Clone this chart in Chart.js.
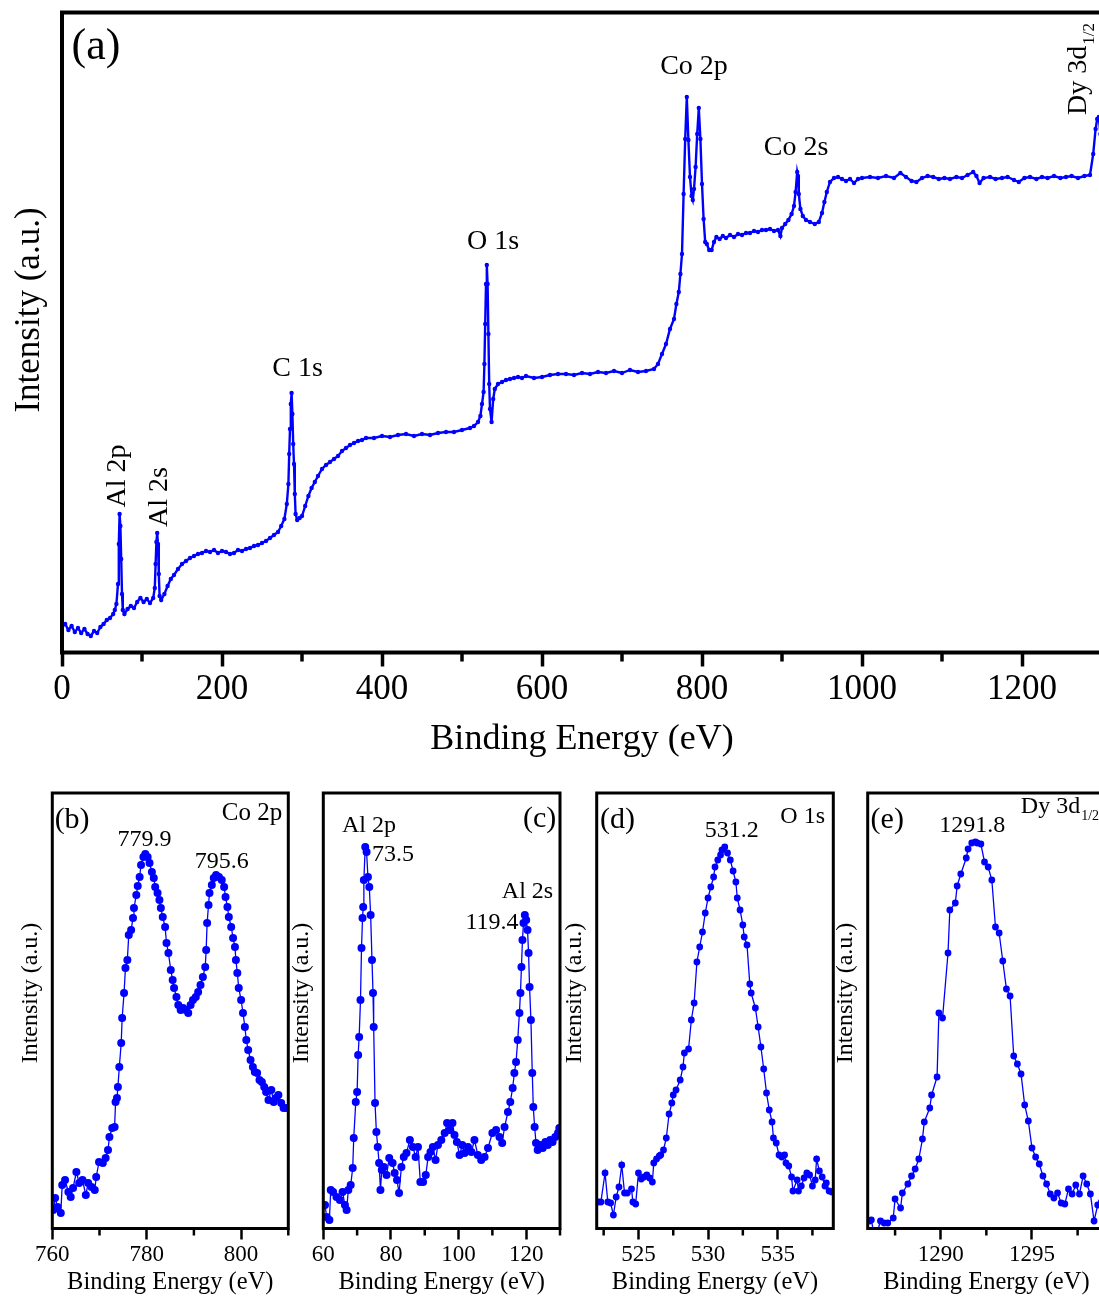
<!DOCTYPE html>
<html>
<head>
<meta charset="utf-8">
<title>XPS spectra</title>
<script src="https://cdn.jsdelivr.net/npm/chart.js@4.4.1/dist/chart.umd.min.js"></script>
<style>
  html, body { margin: 0; padding: 0; background: #fff; overflow: hidden; }
  body { width: 1099px; height: 1298px; position: relative; }
  canvas { position: absolute; }
</style>
</head>
<body>
<canvas id="panelA"></canvas>
<canvas id="panelB"></canvas>
<canvas id="panelC"></canvas>
<canvas id="panelD"></canvas>
<canvas id="panelE"></canvas>
<script>
/* ---------------------------------------------------------
   Data (intensity in arbitrary units)
   --------------------------------------------------------- */

// (a) survey spectrum
const SURVEY_EV = [
  0, 4, 8, 12, 16, 20, 24, 28, 32, 36,
  40, 44, 48, 52, 56, 60, 64, 66, 68, 70,
  71, 72, 73, 74, 75, 76, 78, 82, 86, 90,
  94, 98, 102, 106, 110, 114, 116, 117, 118, 119,
  120, 121, 122, 124, 128, 132, 136, 140, 145, 150,
  155, 160, 165, 170, 175, 180, 185, 190, 195, 200,
  205, 210, 215, 220, 225, 230, 235, 240, 245, 250,
  255, 260, 265, 270, 274, 278, 281, 283, 284, 285,
  286, 287, 288, 289, 290, 291, 292, 294, 297, 300,
  304, 308, 312, 316, 320, 325, 330, 335, 340, 345,
  350, 355, 360, 365, 370, 375, 380, 390, 400, 410,
  420, 430, 440, 450, 460, 470, 480, 490, 500, 510,
  515, 520, 523, 525, 527, 528, 529, 530, 531, 532,
  533, 534, 535, 537, 539, 541, 545, 550, 555, 560,
  565, 570, 575, 580, 590, 600, 610, 620, 630, 640,
  650, 660, 670, 680, 690, 700, 710, 720, 730, 740,
  745, 750, 755, 760, 765, 768, 771, 773, 775, 777,
  779, 781, 783, 785, 787, 788.5, 790, 792, 794, 796,
  798, 800, 802, 804, 806, 809, 812, 815, 818, 822,
  826, 830, 835, 840, 845, 850, 855, 860, 865, 870,
  875, 880, 885, 890, 895, 898, 900, 904, 908, 912,
  915, 917, 919, 920, 921, 923, 926, 930, 935, 941,
  946, 950, 953, 956, 960, 965, 970, 975, 980, 985,
  990, 995, 1000, 1010, 1020, 1030, 1040, 1048, 1055, 1062,
  1068, 1075, 1082, 1089, 1096, 1103, 1110, 1118, 1125, 1132,
  1139, 1143, 1147, 1152, 1160, 1167, 1175, 1182, 1190, 1196,
  1203, 1210, 1218, 1225, 1232, 1240, 1248, 1255, 1262, 1270,
  1278, 1285, 1289, 1292, 1294, 1296, 1298, 1300
];
const SURVEY_INT = [
  27, 30, 24, 28, 22, 26, 21, 25, 20, 18,
  23, 21, 27, 30, 34, 36, 40, 44, 50, 70,
  110, 140, 128, 95, 60, 44, 40, 45, 48, 46,
  52, 56, 52, 55, 51, 56, 66, 90, 112, 121,
  110, 80, 58, 54, 60, 68, 75, 79, 85, 90,
  93, 96, 98, 100, 101, 103, 102, 104, 101, 103,
  102, 100, 101, 104, 103, 105, 106, 108, 109, 111,
  113, 116, 119, 122, 128, 135, 150, 170, 200, 225,
  250, 261, 240, 210, 190, 160, 140, 134, 136, 138,
  148, 158, 166, 172, 178, 185, 189, 192, 195, 198,
  203, 206, 209, 211, 213, 214, 216, 216, 218, 217,
  219, 220, 218, 220, 219, 221, 222, 222, 224, 226,
  228, 232, 238, 250, 262, 290, 330, 370, 389, 370,
  320, 270, 245, 232, 255, 265, 270, 272, 274, 275,
  276, 277, 276, 278, 276, 277, 279, 280, 280, 279,
  281, 280, 282, 281, 283, 281, 284, 282, 283, 285,
  290, 300, 310, 325, 335, 350, 362, 380, 400, 460,
  515, 557, 514, 477, 458, 454, 465, 487, 520, 546,
  515, 470, 435, 412, 410, 404, 404, 412, 417, 415,
  418, 416, 419, 417, 420, 419, 421, 421, 423, 422,
  424, 424, 425, 423, 424, 418, 426, 430, 434, 440,
  448, 462, 482, 478, 460, 445, 438, 434, 432, 430,
  432, 441, 452, 462, 472, 476, 477, 475, 473, 475,
  471, 475, 476, 477, 476, 478, 476, 481, 477, 473,
  472, 476, 478, 477, 475, 476, 475, 477, 476, 479,
  482, 478, 471, 476, 477, 475, 476, 477, 474, 472,
  476, 477, 475, 477, 476, 478, 476, 477, 478, 476,
  478, 479, 500, 525, 535, 537, 520, 500
];

// (b) Co 2p
const CO2P_EV = [
  760.2, 760.6, 761.1, 761.8, 762.1, 762.7, 763.4, 763.9, 764.4, 765.1,
  765.7, 766.4, 767.1, 767.6, 768.3, 769.0, 769.3, 769.9, 770.7, 771.3,
  771.8, 772.1, 772.7, 773.2, 773.4, 773.7, 773.9, 774.2, 774.6, 774.8,
  775.2, 775.5, 775.9, 776.2, 776.7, 777.1, 777.3, 777.8, 778.1, 778.5,
  778.8, 779.3, 779.7, 780.2, 780.6, 781.1, 781.5, 781.8, 782.3, 782.7,
  783.0, 783.4, 783.9, 784.2, 784.6, 785.1, 785.5, 785.8, 786.3, 786.7,
  787.2, 787.7, 788.3, 788.8, 789.3, 789.8, 790.4, 790.9, 791.4, 791.9,
  792.4, 792.6, 792.8, 793.1, 793.3, 793.8, 794.2, 794.7, 795.3, 795.9,
  796.4, 796.7, 797.1, 797.4, 797.9, 798.3, 798.7, 798.9, 799.2, 799.5,
  800.0, 800.4, 800.8, 801.1, 801.5, 802.0, 802.5, 802.9, 803.4, 803.9,
  804.4, 804.9, 805.3, 805.8, 806.4, 806.9, 807.4, 807.9, 808.5, 809.0,
  809.5
];
const CO2P_INT = [
  22, 34, 25, 19, 47, 52, 40, 35, 44, 60,
  49, 52, 37, 49, 45, 42, 55, 70, 69, 74,
  82, 95, 104, 105, 130, 134, 145, 165, 189, 214,
  239, 264, 272, 297, 302, 314, 324, 337, 346, 355,
  367, 375, 378, 375, 369, 360, 354, 345, 339, 332,
  324, 315, 305, 289, 279, 262, 252, 244, 235, 227,
  222, 224, 222, 219, 227, 232, 235, 240, 247, 255,
  265, 282, 309, 327, 339, 347, 354, 357, 355, 352,
  345, 335, 325, 315, 305, 294, 285, 272, 259, 244,
  232, 219, 205, 192, 182, 172, 165, 160, 159, 152,
  150, 145, 140, 132, 142, 130, 134, 137, 129, 124,
  124
];

// (c) Al 2p / Al 2s
const AL_EV = [
  60.5, 61.0, 61.8, 62.2, 62.9, 63.9, 64.9, 65.7, 66.4, 66.9,
  67.4, 68.1, 68.7, 69.0, 69.6, 70.0, 70.3, 70.6, 71.0, 71.3,
  71.6, 71.8, 72.0, 72.4, 72.8, 73.2, 73.6, 74.0, 74.4, 74.7,
  74.9, 75.3, 75.7, 76.1, 76.5, 76.9, 77.3, 77.9, 78.7, 79.5,
  80.5, 81.1, 81.8, 82.4, 83.1, 83.8, 84.6, 85.6, 86.5, 87.3,
  88.0, 88.7, 89.5, 90.3, 91.0, 91.7, 92.4, 93.2, 93.9, 94.9,
  95.9, 96.6, 97.4, 98.2, 98.8, 99.5, 100.3, 101.1, 101.8, 102.8,
  103.8, 104.7, 105.7, 106.7, 107.7, 108.7, 110.0, 111.1, 112.1, 112.9,
  113.6, 114.6, 115.3, 116.0, 116.5, 117.0, 117.5, 118.0, 118.3, 118.6,
  118.9, 119.2, 119.6, 120.0, 120.4, 120.7, 121.0, 121.4, 121.8, 122.1,
  122.5, 122.9, 123.4, 124.1, 124.9, 125.7, 126.4, 127.1, 127.8, 128.6,
  129.4, 129.8
];
const AL_INT = [
  27, 15, 12, 42, 40, 35, 32, 40, 27, 22,
  42, 47, 64, 94, 130, 140, 177, 195, 232, 284,
  314, 325, 352, 385, 380, 355, 345, 317, 272, 239,
  205, 129, 100, 85, 69, 42, 62, 65, 57, 74,
  69, 59, 52, 39, 65, 75, 79, 92, 85, 75,
  85, 50, 50, 57, 75, 80, 85, 72, 87, 92,
  99, 109, 102, 109, 97, 90, 77, 87, 79, 85,
  80, 92, 77, 72, 75, 84, 99, 102, 95, 89,
  105, 120, 130, 144, 159, 170, 192, 219, 239, 265,
  292, 309, 317, 312, 302, 279, 245, 212, 159, 125,
  105, 89, 82, 87, 84, 90, 87, 92, 90, 95,
  99, 104
];

// (d) O 1s
const O1S_EV = [
  522.1, 522.3, 522.6, 522.8, 523.0, 523.2, 523.4, 523.6, 523.8, 524.0,
  524.2, 524.5, 524.6, 524.8, 525.0, 525.2, 525.4, 525.6, 525.8, 526.0,
  526.1, 526.3, 526.5, 526.6, 526.8, 527.0, 527.2, 527.4, 527.5, 527.7,
  528.0, 528.2, 528.3, 528.6, 528.8, 529.0, 529.2, 529.4, 529.6, 529.8,
  530.0, 530.2, 530.4, 530.5, 530.7, 530.9, 531.0, 531.2, 531.4, 531.6,
  531.8, 532.0, 532.1, 532.3, 532.5, 532.6, 532.8, 533.0, 533.1, 533.4,
  533.6, 533.8, 534.0, 534.2, 534.4, 534.6, 534.7, 534.9, 535.1, 535.3,
  535.5, 535.6, 535.8, 536.0, 536.1, 536.4, 536.5, 536.7, 536.9, 537.1,
  537.3, 537.5, 537.7, 537.8, 538.0, 538.2, 538.4, 538.5, 538.7, 538.9
];
const O1S_INT = [
  30, 30, 59, 30, 29, 17, 35, 45, 67, 39,
  39, 43, 30, 28, 59, 53, 55, 57, 54, 50,
  69, 73, 76, 77, 82, 94, 118, 129, 137, 142,
  152, 165, 179, 183, 212, 229, 270, 285, 300, 319,
  334, 345, 355, 365, 372, 377, 382, 385, 379, 372,
  361, 350, 334, 322, 307, 295, 287, 248, 239, 224,
  205, 185, 163, 139, 122, 110, 94, 89, 77, 75,
  77, 69, 66, 55, 41, 52, 41, 46, 54, 59,
  57, 46, 52, 73, 61, 55, 46, 49, 41, 40
];

// (e) Dy 3d
const DY_EV = [
  1286.1, 1286.2, 1286.4, 1286.7, 1286.9, 1287.1, 1287.4, 1287.5, 1287.8, 1287.9,
  1288.2, 1288.4, 1288.6, 1288.8, 1289.0, 1289.1, 1289.4, 1289.5, 1289.8, 1289.9,
  1290.1, 1290.4, 1290.5, 1290.8, 1290.9, 1291.1, 1291.4, 1291.5, 1291.7, 1291.9,
  1292.0, 1292.2, 1292.4, 1292.6, 1292.8, 1293.0, 1293.2, 1293.4, 1293.6, 1293.8,
  1294.0, 1294.2, 1294.4, 1294.6, 1294.8, 1295.0, 1295.2, 1295.4, 1295.6, 1295.8,
  1296.0, 1296.2, 1296.4, 1296.6, 1296.8, 1297.0, 1297.2, 1297.4, 1297.6, 1297.8,
  1298.0, 1298.2, 1298.4, 1298.6, 1298.8
];
const DY_INT = [
  11, 12, -8, 11, 9, 9, 14, 33, 24, 39,
  48, 56, 63, 73, 93, 110, 124, 137, 155, 219,
  214, 279, 322, 329, 346, 358, 374, 383, 389, 390,
  389, 388, 370, 365, 352, 305, 299, 271, 243, 236,
  176, 168, 158, 127, 111, 84, 75, 68, 56, 48,
  38, 34, 39, 29, 28, 43, 38, 47, 38, 56,
  48, 38, 11, 27, 30
];

// tick labels (major) and minor tick positions
const A_TICKS = [0, 200, 400, 600, 800, 1000, 1200];
const A_MINOR = [100, 300, 500, 700, 900, 1100, 1300];
const B_TICKS = [760, 780, 800];
const B_MINOR = [770, 790, 810];
const C_TICKS = [60, 80, 100, 120];
const C_MINOR = [70, 90, 110, 130];
const D_TICKS = [525, 530, 535];
const D_MINOR = [522.5, 527.5, 532.5, 537.5];
const E_TICKS = [1290, 1295];
const E_MINOR = [1287.5, 1292.5, 1297.5];

/* ---------------------------------------------------------
   Layout + text placed on each panel
   --------------------------------------------------------- */
const SERIF = '"Liberation Serif", "Times New Roman", serif';
const BLUE = "#0000ff";

// shared look of the four small panels
const SMALL = {
  yRange: [3.5, 439],
  frameW: 3, tickW: 2.5, tickLen: 11, minorLen: 7, tickPad: 1.2,
  tickFont: 23, titleFont: 24.5, xH: 69.2,
  yTitleFont: 24, yTitleDx: 21.5, yTitleY: 993
};

const PANELS = [
  {
    id: "panelA", box: [0, 0, 1120, 780], area: [62, 12.5, 1102, 652.5],
    xRange: [0, 1300], yRange: [1.5, 641.5],
    ev: SURVEY_EV, int: SURVEY_INT, ticks: A_TICKS, minor: A_MINOR,
    dot: 2.2, line: 2.4,
    frameW: 4, tickW: 3.5, tickLen: 14, minorLen: 9, tickPad: 2.5,
    tickFont: 35, titleFont: 36, xH: 109.1,
    yTitleFont: 35, yTitleDx: 32, yTitleY: 310,
    notes: [
      { text: "(a)", x: 42.5, y: 607, size: 44 },
      { text: "Al 2p", x: 70, y: 178, size: 28, rot: true },
      { text: "Al 2s", x: 122.5, y: 157, size: 28, rot: true },
      { text: "C 1s", x: 294.5, y: 285, size: 28 },
      { text: "O 1s", x: 538.75, y: 412, size: 28 },
      { text: "Co 2p", x: 790, y: 587, size: 28 },
      { text: "Co 2s", x: 917.5, y: 506, size: 28 },
      { text: "Dy 3d", sub: "1/2", x: 1279.4, y: 539, size: 28, subSize: 17, subDrop: 8, rot: true }
    ]
  },
  Object.assign({}, SMALL, {
    id: "panelB", box: [0, 780, 300, 518], area: [52.3, 793, 288.3, 1228.5],
    xRange: [760, 810],
    ev: CO2P_EV, int: CO2P_INT, ticks: B_TICKS, minor: B_MINOR,
    dot: 4, line: 1.3,
    notes: [
      { text: "(b)", x: 764.2, y: 412, size: 30 },
      { text: "779.9", x: 779.55, y: 392, size: 24 },
      { text: "795.6", x: 795.9, y: 370.5, size: 24 },
      { text: "Co 2p", x: 802.3, y: 419, size: 25 }
    ]
  }),
  Object.assign({}, SMALL, {
    id: "panelC", box: [278, 780, 292, 518], area: [323.3, 793, 560, 1228.5],
    xRange: [60, 130],
    ev: AL_EV, int: AL_INT, ticks: C_TICKS, minor: C_MINOR,
    dot: 4, line: 1.3,
    notes: [
      { text: "Al 2p", x: 73.5, y: 406, size: 24 },
      { text: "73.5", x: 80.6, y: 377, size: 24 },
      { text: "(c)", x: 124.0, y: 413, size: 30 },
      { text: "Al 2s", x: 120.4, y: 340, size: 24 },
      { text: "119.4", x: 109.9, y: 309, size: 24 }
    ]
  }),
  Object.assign({}, SMALL, {
    id: "panelD", box: [552, 780, 291, 518], area: [596.7, 793, 833.3, 1228.5],
    xRange: [522, 539],
    ev: O1S_EV, int: O1S_INT, ticks: D_TICKS, minor: D_MINOR,
    dot: 3.4, line: 1.3,
    notes: [
      { text: "(d)", x: 523.5, y: 412, size: 30 },
      { text: "O 1s", x: 536.8, y: 415, size: 24 },
      { text: "531.2", x: 531.7, y: 401, size: 24 }
    ]
  }),
  Object.assign({}, SMALL, {
    id: "panelE", box: [822, 780, 300, 518], area: [867.7, 793, 1105, 1228.5],
    xRange: [1286, 1299],
    ev: DY_EV, int: DY_INT, ticks: E_TICKS, minor: E_MINOR,
    dot: 3.4, line: 1.3,
    notes: [
      { text: "(e)", x: 1287.07, y: 412, size: 30 },
      { text: "1291.8", x: 1291.73, y: 406.5, size: 24 },
      { text: "Dy 3d", sub: "1/2", x: 1294.39, y: 419, size: 24, subSize: 14, subDrop: 7 }
    ]
  })
];

function drawNote(ctx, n, xs, ys) {
  ctx.save();
  ctx.translate(xs.getPixelForValue(n.x), ys.getPixelForValue(n.y));
  if (n.rot) ctx.rotate(-Math.PI / 2);
  ctx.fillStyle = "#000";
  ctx.font = `${n.size}px ${SERIF}`;
  if (n.sub) {
    ctx.textAlign = "left";
    ctx.textBaseline = "alphabetic";
    ctx.fillText(n.text, 0, 0);
    const w = ctx.measureText(n.text).width;
    ctx.font = `${n.subSize}px ${SERIF}`;
    ctx.fillText(n.sub, w + 1, n.subDrop);
  } else {
    ctx.textAlign = "center";
    ctx.textBaseline = "middle";
    ctx.fillText(n.text, 0, 0);
  }
  ctx.restore();
}

function drawDecor(chart, cfg) {
  const ctx = chart.ctx;
  const a = chart.chartArea;
  const xs = chart.scales.x;
  const ys = chart.scales.y;

  ctx.save();
  ctx.strokeStyle = "#000";

  // minor ticks (shorter than the major ones drawn by the axis)
  ctx.lineWidth = cfg.tickW;
  cfg.minor.forEach((v) => {
    const px = xs.getPixelForValue(v);
    ctx.beginPath();
    ctx.moveTo(px, a.bottom);
    ctx.lineTo(px, a.bottom + cfg.minorLen);
    ctx.stroke();
  });

  // frame round the plot
  ctx.lineWidth = cfg.frameW;
  ctx.strokeRect(a.left, a.top, a.right - a.left, a.bottom - a.top);

  // y axis title
  ctx.translate(a.left - cfg.yTitleDx, cfg.yTitleY - cfg.box[1]);
  ctx.rotate(-Math.PI / 2);
  ctx.fillStyle = "#000";
  ctx.font = `${cfg.yTitleFont}px ${SERIF}`;
  ctx.textAlign = "center";
  ctx.textBaseline = "middle";
  ctx.fillText("Intensity (a.u.)", 0, 0);
  ctx.restore();

  cfg.notes.forEach((n) => drawNote(ctx, n, xs, ys));
}

function makePanel(cfg) {
  const canvas = document.getElementById(cfg.id);
  const [cx, cy, cw, ch] = cfg.box;
  const [L, T, R, B] = cfg.area;
  canvas.width = cw;
  canvas.height = ch;
  canvas.style.left = cx + "px";
  canvas.style.top = cy + "px";
  canvas.style.width = cw + "px";
  canvas.style.height = ch + "px";

  return new Chart(canvas, {
    type: "line",
    data: {
      datasets: [{
        data: cfg.ev.map((e, i) => ({ x: e, y: cfg.int[i] })),
        borderColor: BLUE,
        backgroundColor: BLUE,
        borderWidth: cfg.line,
        pointRadius: cfg.dot,
        pointHoverRadius: cfg.dot,
        pointBorderWidth: 0,
        pointBackgroundColor: BLUE,
        tension: 0,
        fill: false
      }]
    },
    options: {
      responsive: false,
      animation: false,
      devicePixelRatio: 1,
      events: [],
      layout: {
        padding: { left: L - cx, top: T - cy, right: cx + cw - R, bottom: cy + ch - B - cfg.xH }
      },
      plugins: { legend: { display: false }, tooltip: { enabled: false } },
      scales: {
        x: {
          type: "linear",
          min: cfg.xRange[0],
          max: cfg.xRange[1],
          afterFit: (s) => { s.height = cfg.xH; },
          afterBuildTicks: (s) => { s.ticks = cfg.ticks.map((v) => ({ value: v })); },
          ticks: {
            callback: (v) => String(v),
            font: { family: SERIF, size: cfg.tickFont },
            color: "#000",
            padding: cfg.tickPad,
            maxRotation: 0,
            autoSkip: false
          },
          grid: {
            drawOnChartArea: false,
            drawTicks: true,
            tickLength: cfg.tickLen,
            tickWidth: cfg.tickW,
            tickColor: "#000"
          },
          border: { display: false },
          title: {
            display: true,
            text: "Binding Energy (eV)",
            font: { family: SERIF, size: cfg.titleFont },
            color: "#000",
            padding: 0
          }
        },
        y: { type: "linear", display: false, min: cfg.yRange[0], max: cfg.yRange[1] }
      }
    },
    plugins: [{ id: "decor_" + cfg.id, afterDraw: (chart) => drawDecor(chart, cfg) }]
  });
}

PANELS.forEach(makePanel);
</script>
</body>
</html>
